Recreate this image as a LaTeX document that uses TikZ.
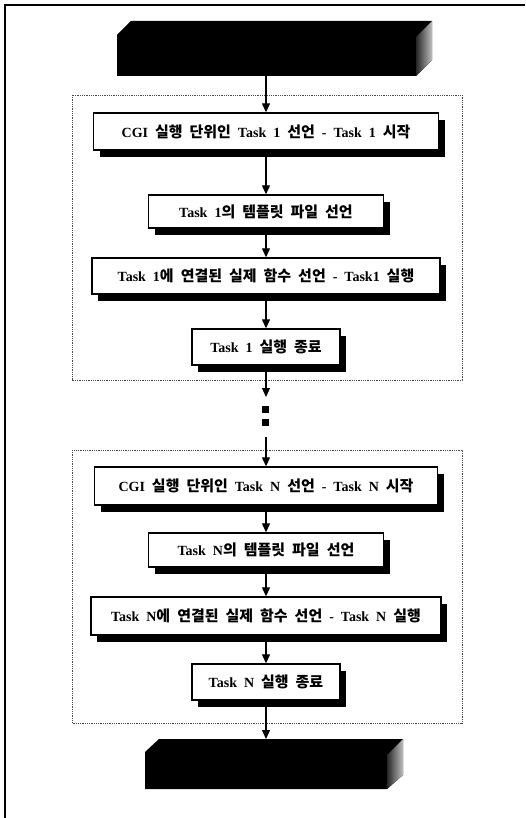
\documentclass[tikz,border=0pt]{standalone}
\usepackage{fontspec}
\setmainfont{Liberation Serif}
\newfontfamily\krfont{Noto Sans CJK KR}[Scale=1.07]
\usetikzlibrary{arrows.meta,shadows}
\newcommand{\kor}[1]{{\krfont #1}}

\tikzset{
  taskbox/.style={draw=black, line width=1.4pt, fill=white, inner sep=0pt,
    font=\bfseries\fontsize{14}{16}\selectfont,
    execute at begin node={\spaceskip=7pt plus 1pt\relax},
    drop shadow={shadow xshift=6pt, shadow yshift=-7pt, fill=black, opacity=1}},
  groupbox/.style={draw=black!70, densely dotted, line width=0.8pt},
  flow/.style={line width=1.2pt, -{Triangle[length=9pt,width=8pt]}},
}

\begin{document}
\begin{tikzpicture}[x=1pt, y=-1pt]
  \useasboundingbox (0,0) rectangle (525,818);

  % Marco
  \draw[line width=1.5pt] (5,818) -- (5,5) -- (525,5);

  % Bloque superior
  \fill[black] (117,35) -- (131,21) -- (432,21) -- (432,60) -- (416,76) -- (117,76) -- cycle;
  \shade[left color=black!85, right color=black!25] (416,37) -- (432,21) -- (432,60) -- (416,76) -- cycle;
  \coordinate (begin) at (266,76);

  % Grupo Task 1
  \draw[groupbox] (72,95) rectangle (462,380);
  \node[taskbox, minimum width=345pt, minimum height=37pt] (cgiA) at (266,131.5)
    {CGI \kor{실행 단위인} Task 1 \kor{선언} - Task 1 \kor{시작}};
  \node[taskbox, minimum width=235pt, minimum height=33pt] (tmplA) at (266,211.5)
    {Task 1\kor{의 템플릿 파일 선언}};
  \node[taskbox, minimum width=348pt, minimum height=36pt] (funcA) at (266,276)
    {Task 1\kor{에 연결된 실제 함수 선언} - Task1 \kor{실행}};
  \node[taskbox, minimum width=148pt, minimum height=36pt] (endA) at (266,347)
    {Task 1 \kor{실행 종료}};

  % Puntos
  \coordinate (dotsTop) at (266,397);
  \fill (262,406) rectangle (269,413);
  \fill (262,419) rectangle (269,426);
  \coordinate (dotsBot) at (266,437);

  % Grupo Task N
  \draw[groupbox] (72,450) rectangle (462,723);
  \node[taskbox, minimum width=343pt, minimum height=38pt] (cgiN) at (266,486)
    {CGI \kor{실행 단위인} Task N \kor{선언} - Task N \kor{시작}};
  \node[taskbox, minimum width=235pt, minimum height=34pt] (tmplN) at (266,550)
    {Task N\kor{의 템플릿 파일 선언}};
  \node[taskbox, minimum width=350pt, minimum height=38pt] (funcN) at (266,616)
    {Task N\kor{에 연결된 실제 함수 선언} - Task N \kor{실행}};
  \node[taskbox, minimum width=148pt, minimum height=36pt] (endN) at (266,682)
    {Task N \kor{실행 종료}};

  % Bloque inferior
  \fill[black] (145,752) -- (159,739) -- (403,739) -- (403,775) -- (387,789) -- (145,789) -- cycle;
  \shade[left color=black!85, right color=black!25] (387,755) -- (403,739) -- (403,775) -- (387,789) -- cycle;
  \coordinate (finish) at (266,739);

  % Flechas
  \draw[flow] (begin) -- (cgiA);
  \draw[flow] (cgiA) -- (tmplA);
  \draw[flow] (tmplA) -- (funcA);
  \draw[flow] (funcA) -- (endA);
  \draw[flow] (endA) -- (dotsTop);
  \draw[flow] (dotsBot) -- (cgiN);
  \draw[flow] (cgiN) -- (tmplN);
  \draw[flow] (tmplN) -- (funcN);
  \draw[flow] (funcN) -- (endN);
  \draw[flow] (endN) -- (finish);
\end{tikzpicture}
\end{document}
